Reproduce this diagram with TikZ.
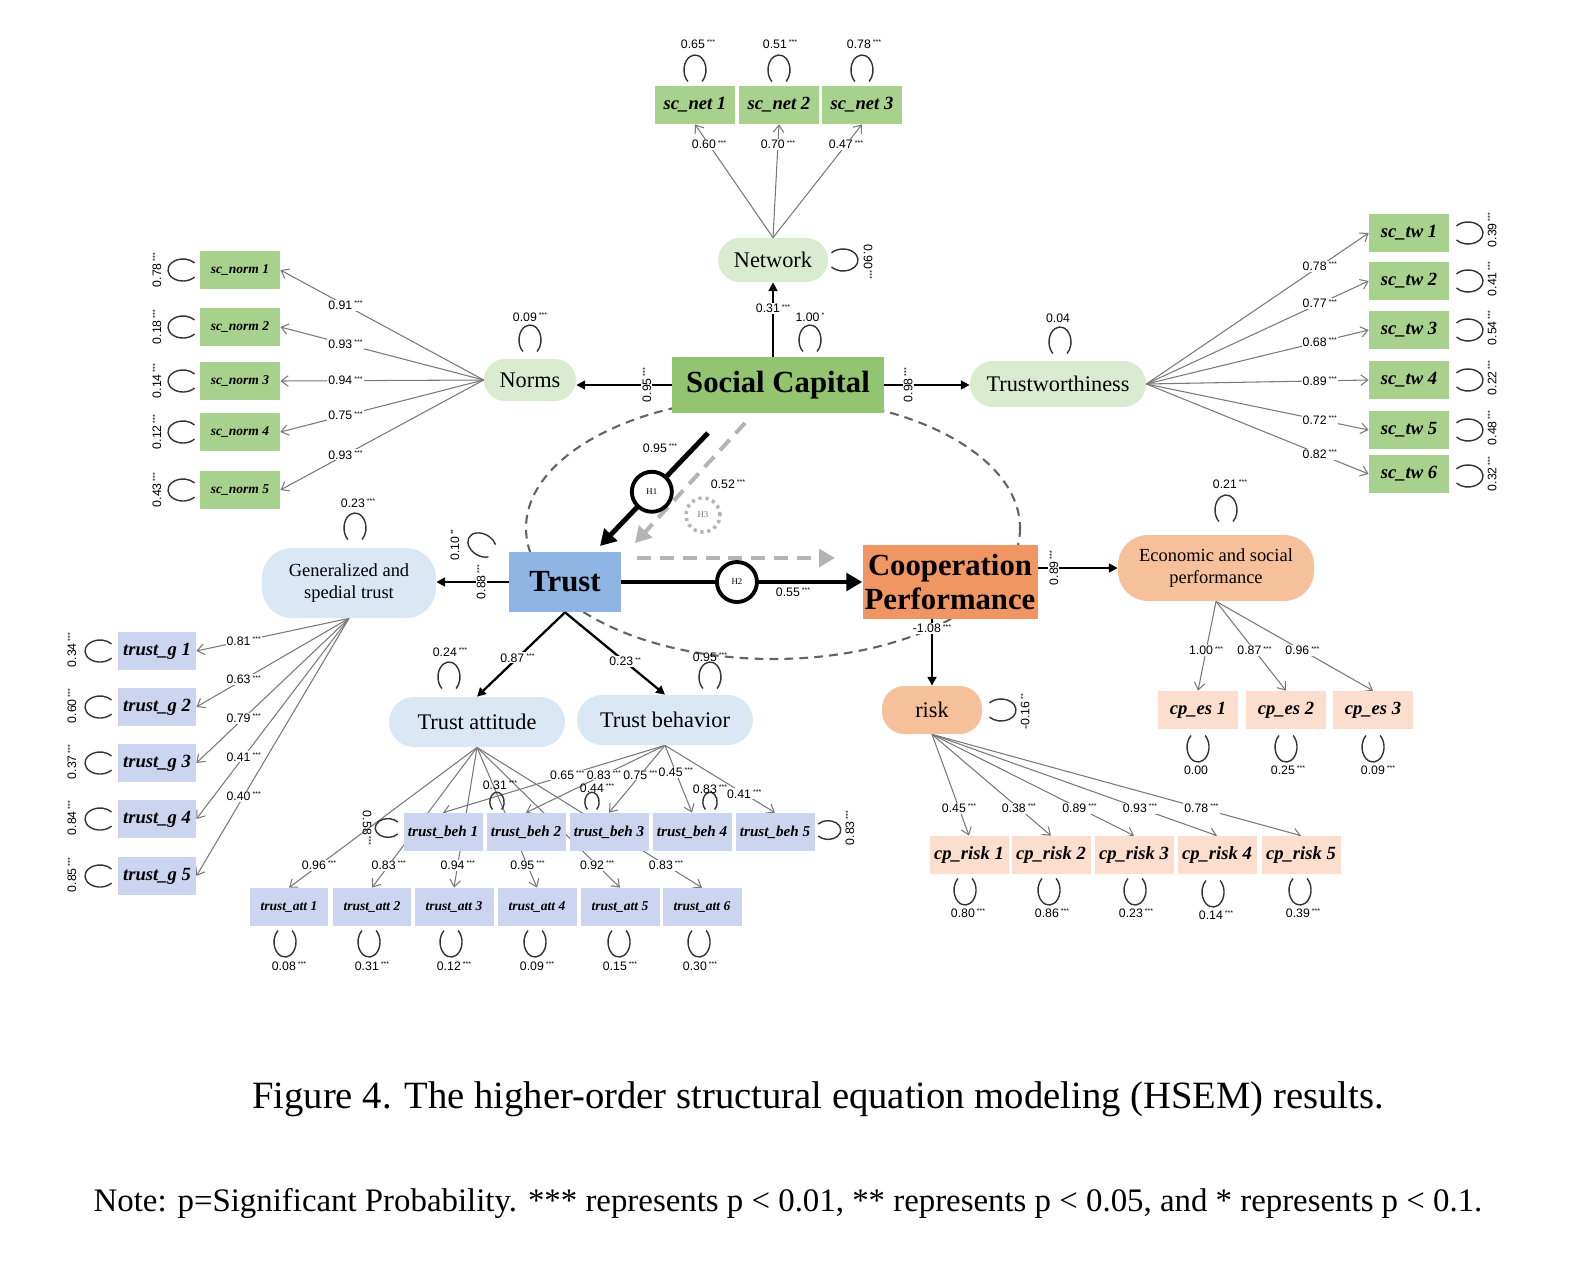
\documentclass[tikz,border=0pt]{standalone}
\usepackage{fontspec}
\setmainfont{Liberation Serif}
\newfontfamily\numfont{Liberation Sans}
\usetikzlibrary{arrows.meta,backgrounds}

\definecolor{obsgreen}{RGB}{169,209,142}
\definecolor{scgreen}{RGB}{147,196,112}
\definecolor{latgreen}{RGB}{218,236,208}
\definecolor{trblue}{RGB}{141,180,226}
\definecolor{latblue}{RGB}{218,232,246}
\definecolor{obsblue}{RGB}{204,213,240}
\definecolor{cporange}{RGB}{240,150,98}
\definecolor{latorange}{RGB}{246,192,155}
\definecolor{obspeach}{RGB}{251,222,205}
\definecolor{linegray}{RGB}{120,120,120}
\definecolor{dashgray}{RGB}{180,180,180}
\definecolor{ellgray}{RGB}{100,100,100}

\newcommand{\sig}[1]{\raisebox{0.55ex}{\fontsize{4}{4}\selectfont#1}}
\newcommand{\val}[2]{#1\,\sig{#2}}
% error loop: [size]{centre}{direction of the opening}
\newcommand{\eloop}[3][1]{%
  \begin{scope}[shift={(#2)},rotate=#3,scale=#1]
    \draw[loopline] (40:15 and 11) arc[start angle=40,end angle=320,x radius=15,y radius=11];
  \end{scope}}

\tikzset{
  obs/.style={rectangle, inner sep=0pt, minimum width=1.6cm, minimum height=0.76cm, font=\bfseries\itshape\fontsize{10.6}{12}\selectfont},
  obsg/.style={obs, fill=obsgreen},
  obsb/.style={obs, fill=obsblue},
  obso/.style={obs, fill=obspeach},
  lat/.style={rectangle, inner sep=0pt, align=center, font=\fontsize{12.7}{14}\selectfont},
  latg/.style={lat, fill=latgreen},
  latb/.style={lat, fill=latblue},
  lato/.style={lat, fill=latorange},
  core/.style={rectangle, inner sep=0pt, align=center, font=\bfseries\fontsize{17.5}{19}\selectfont},
  num/.style={inner sep=0.6pt, font=\numfont\fontsize{7}{8}\selectfont},
  lab/.style={num, fill=white},
  load/.style={draw=linegray, line width=0.6pt, -{Straight Barb[length=4pt,width=6pt]}},
  struct/.style={draw=black, line width=1.3pt, -{Triangle[length=5pt,width=5pt]}},
  strong/.style={draw=black, line width=2.8pt, -{Triangle[length=9pt,width=10pt]}},
  gdash/.style={draw=dashgray, line width=2.3pt, dash pattern=on 8pt off 5pt, -{Triangle[length=9pt,width=10pt]}},
  ellip/.style={draw=ellgray, line width=1.2pt, dash pattern=on 5pt off 3.5pt},
  hcirc/.style={circle, draw=black, line width=2.2pt, fill=white, minimum size=0.8cm, inner sep=0pt, font=\fontsize{5}{5}\selectfont},
  loopline/.style={draw=black!80, line width=0.8pt},
  capt/.style={inner sep=0pt, font=\fontsize{22}{26}\selectfont},
}

\begin{document}
\begin{tikzpicture}[x=0.02cm, y=-0.02cm]
\useasboundingbox (0,0) rectangle (1574,1264);

% social capital and its factors
\node[core, fill=scgreen, minimum width=4.24cm, minimum height=1.12cm] (sc) at (778,385) {Social Capital};
\node[latg, minimum width=2.2cm, minimum height=0.88cm, rounded corners=0.44cm] (net) at (773,260) {Network};
\node[latg, minimum width=1.84cm, minimum height=0.84cm, rounded corners=0.42cm] (norms) at (530,380) {Norms};
\node[latg, minimum width=3.52cm, minimum height=0.92cm, rounded corners=0.46cm] (tw) at (1058,384) {Trustworthiness};

\node[obsg] (net1) at (695,105) {sc\_net 1};
\node[obsg] (net2) at (779,105) {sc\_net 2};
\node[obsg] (net3) at (862,105) {sc\_net 3};

\node[obsg, font=\bfseries\itshape\fontsize{7.7}{9}\selectfont] (norm1) at (240,270) {sc\_norm 1};
\node[obsg, font=\bfseries\itshape\fontsize{7.7}{9}\selectfont] (norm2) at (240,327) {sc\_norm 2};
\node[obsg, font=\bfseries\itshape\fontsize{7.7}{9}\selectfont] (norm3) at (240,381) {sc\_norm 3};
\node[obsg, font=\bfseries\itshape\fontsize{7.7}{9}\selectfont] (norm4) at (240,432) {sc\_norm 4};
\node[obsg, font=\bfseries\itshape\fontsize{7.7}{9}\selectfont] (norm5) at (240,490) {sc\_norm 5};

\node[obsg] (tw1) at (1409,233) {sc\_tw 1};
\node[obsg] (tw2) at (1409,281) {sc\_tw 2};
\node[obsg] (tw3) at (1409,330) {sc\_tw 3};
\node[obsg] (tw4) at (1409,380) {sc\_tw 4};
\node[obsg] (tw5) at (1409,430) {sc\_tw 5};
\node[obsg] (tw6) at (1409,474) {sc\_tw 6};

% trust and its factors
\node[core, fill=trblue, minimum width=2.24cm, minimum height=1.2cm] (tr) at (565,582) {Trust};
\node[latb, minimum width=3.48cm, minimum height=1.4cm, rounded corners=0.6cm, font=\fontsize{10.5}{12.5}\selectfont] (gst) at (349,583) {Generalized and\\spedial trust};
\node[latb, minimum width=3.52cm, minimum height=1.0cm, rounded corners=0.5cm] (tatt) at (477,722) {Trust attitude};
\node[latb, minimum width=3.52cm, minimum height=1.0cm, rounded corners=0.5cm] (tbeh) at (665,720) {Trust behavior};

\node[obsb, minimum width=1.56cm] (g1) at (157,651) {trust\_g 1};
\node[obsb, minimum width=1.56cm] (g2) at (157,707) {trust\_g 2};
\node[obsb, minimum width=1.56cm] (g3) at (157,763) {trust\_g 3};
\node[obsb, minimum width=1.56cm] (g4) at (157,819) {trust\_g 4};
\node[obsb, minimum width=1.56cm] (g5) at (157,876) {trust\_g 5};

\node[obsb, minimum width=1.58cm, font=\bfseries\itshape\fontsize{8.6}{10}\selectfont] (beh1) at (443,832) {trust\_beh 1};
\node[obsb, minimum width=1.58cm, font=\bfseries\itshape\fontsize{8.6}{10}\selectfont] (beh2) at (526,832) {trust\_beh 2};
\node[obsb, minimum width=1.58cm, font=\bfseries\itshape\fontsize{8.6}{10}\selectfont] (beh3) at (609,832) {trust\_beh 3};
\node[obsb, minimum width=1.58cm, font=\bfseries\itshape\fontsize{8.6}{10}\selectfont] (beh4) at (692,832) {trust\_beh 4};
\node[obsb, minimum width=1.58cm, font=\bfseries\itshape\fontsize{8.6}{10}\selectfont] (beh5) at (775,832) {trust\_beh 5};

\node[obsb, minimum width=1.58cm, font=\bfseries\itshape\fontsize{7.7}{9}\selectfont] (att1) at (289,907) {trust\_att 1};
\node[obsb, minimum width=1.58cm, font=\bfseries\itshape\fontsize{7.7}{9}\selectfont] (att2) at (372,907) {trust\_att 2};
\node[obsb, minimum width=1.58cm, font=\bfseries\itshape\fontsize{7.7}{9}\selectfont] (att3) at (454,907) {trust\_att 3};
\node[obsb, minimum width=1.58cm, font=\bfseries\itshape\fontsize{7.7}{9}\selectfont] (att4) at (537,907) {trust\_att 4};
\node[obsb, minimum width=1.58cm, font=\bfseries\itshape\fontsize{7.7}{9}\selectfont] (att5) at (620,907) {trust\_att 5};
\node[obsb, minimum width=1.58cm, font=\bfseries\itshape\fontsize{7.7}{9}\selectfont] (att6) at (702,907) {trust\_att 6};

% cooperation performance and its factors
\node[core, fill=cporange, minimum width=3.5cm, minimum height=1.48cm] (cp) at (950,582) {Cooperation\\Performance};
\node[lato, minimum width=3.92cm, minimum height=1.32cm, rounded corners=0.6cm, font=\fontsize{10.5}{12.5}\selectfont] (esp) at (1216,568) {Economic and social\\performance};
\node[lato, minimum width=2.0cm, minimum height=0.96cm, rounded corners=0.45cm] (risk) at (932,710) {risk};

\node[obso] (es1) at (1198,710) {cp\_es 1};
\node[obso] (es2) at (1286,710) {cp\_es 2};
\node[obso] (es3) at (1373,710) {cp\_es 3};

\node[obso, minimum width=1.58cm] (rk1) at (969,855) {cp\_risk 1};
\node[obso, minimum width=1.58cm] (rk2) at (1051,855) {cp\_risk 2};
\node[obso, minimum width=1.58cm] (rk3) at (1134,855) {cp\_risk 3};
\node[obso, minimum width=1.58cm] (rk4) at (1217,855) {cp\_risk 4};
\node[obso, minimum width=1.58cm] (rk5) at (1301,855) {cp\_risk 5};

% loadings, behind the boxes
\begin{scope}[on background layer]
\draw[ellip] (773,528) ellipse [x radius=247, y radius=131];
\draw[load] (net.north) -- (net1.south) node[lab, pos=0.82] (lnet1) {\val{0.60}{***}};
\draw[load] (net.north) -- (net2.south) node[lab, pos=0.82] (lnet2) {\val{0.70}{***}};
\draw[load] (net.north) -- (net3.south) node[lab, pos=0.82] (lnet3) {\val{0.47}{***}};
\draw[load] (norms.west) -- (norm1.east) node[lab, pos=0.68] (lnorm1) {\val{0.91}{***}};
\draw[load] (norms.west) -- (norm2.east) node[lab, pos=0.68] (lnorm2) {\val{0.93}{***}};
\draw[load] (norms.west) -- (norm3.east) node[lab, pos=0.68] (lnorm3) {\val{0.94}{***}};
\draw[load] (norms.west) -- (norm4.east) node[lab, pos=0.68] (lnorm4) {\val{0.75}{***}};
\draw[load] (norms.west) -- (norm5.east) node[lab, pos=0.68] (lnorm5) {\val{0.93}{***}};
\draw[load] (tw.east) -- (tw1.west) node[lab, pos=0.78] (ltw1) {\val{0.78}{***}};
\draw[load] (tw.east) -- (tw2.west) node[lab, pos=0.78] (ltw2) {\val{0.77}{***}};
\draw[load] (tw.east) -- (tw3.west) node[lab, pos=0.78] (ltw3) {\val{0.68}{***}};
\draw[load] (tw.east) -- (tw4.west) node[lab, pos=0.78] (ltw4) {\val{0.89}{***}};
\draw[load] (tw.east) -- (tw5.west) node[lab, pos=0.78] (ltw5) {\val{0.72}{***}};
\draw[load] (tw.east) -- (tw6.west) node[lab, pos=0.78] (ltw6) {\val{0.82}{***}};
\draw[load] (gst.south) -- (g1.east) node[lab, pos=0.69] (lg1) {\val{0.81}{***}};
\draw[load] (gst.south) -- (g2.east) node[lab, pos=0.69] (lg2) {\val{0.63}{***}};
\draw[load] (gst.south) -- (g3.east) node[lab, pos=0.69] (lg3) {\val{0.79}{***}};
\draw[load] (gst.south) -- (g4.east) node[lab, pos=0.69] (lg4) {\val{0.41}{***}};
\draw[load] (gst.south) -- (g5.east) node[lab, pos=0.69] (lg5) {\val{0.40}{***}};
\draw[load] (tatt.south) -- (att1.north) node[lab, pos=0.84] (latt1) {\val{0.96}{***}};
\draw[load] (tatt.south) -- (att2.north) node[lab, pos=0.84] (latt2) {\val{0.83}{***}};
\draw[load] (tatt.south) -- (att3.north) node[lab, pos=0.84] (latt3) {\val{0.94}{***}};
\draw[load] (tatt.south) -- (att4.north) node[lab, pos=0.84] (latt4) {\val{0.95}{***}};
\draw[load] (tatt.south) -- (att5.north) node[lab, pos=0.84] (latt5) {\val{0.92}{***}};
\draw[load] (tatt.south) -- (att6.north) node[lab, pos=0.84] (latt6) {\val{0.83}{***}};
\draw[load] (tbeh.south) -- (beh1.north) node[lab, pos=0.44] (lbeh1) {\val{0.65}{***}};
\draw[load] (tbeh.south) -- (beh2.north) node[lab, pos=0.44] (lbeh2) {\val{0.83}{***}};
\draw[load] (tbeh.south) -- (beh3.north) node[lab, pos=0.44] (lbeh3) {\val{0.75}{***}};
\draw[load] (tbeh.south) -- (beh4.north) node[lab, pos=0.40] (lbeh4) {\val{0.45}{***}};
\draw[load] (tbeh.south) -- (beh5.north) node[lab, pos=0.72] (lbeh5) {\val{0.41}{***}};
\draw[load] (esp.south) -- (es1.north) node[lab, pos=0.55] (les1) {\val{1.00}{***}};
\draw[load] (esp.south) -- (es2.north) node[lab, pos=0.55] (les2) {\val{0.87}{***}};
\draw[load] (esp.south) -- (es3.north) node[lab, pos=0.55] (les3) {\val{0.96}{***}};
\draw[load] (risk.south) -- (rk1.north) node[lab, pos=0.73] (lrk1) {\val{0.45}{***}};
\draw[load] (risk.south) -- (rk2.north) node[lab, pos=0.73] (lrk2) {\val{0.38}{***}};
\draw[load] (risk.south) -- (rk3.north) node[lab, pos=0.73] (lrk3) {\val{0.89}{***}};
\draw[load] (risk.south) -- (rk4.north) node[lab, pos=0.73] (lrk4) {\val{0.93}{***}};
\draw[load] (risk.south) -- (rk5.north) node[lab, pos=0.73] (lrk5) {\val{0.78}{***}};
\end{scope}

% second-order paths
\draw[struct] (net.south |- sc.north) -- (net.south) node[lab, pos=0.65] (lscnet) {\val{0.31}{***}};
\draw[struct] (sc.west) -- (sc.west -| norms.east) node[lab, rotate=90, pos=0.26] (lscnorm) {\val{0.95}{***}};
\draw[struct] (sc.east) -- (sc.east -| tw.west) node[lab, rotate=90, pos=0.28] (lsctw) {\val{0.98}{***}};
\draw[struct] (tr.west) -- (tr.west -| gst.east) node[lab, rotate=90, pos=0.38] (ltrgst) {\val{0.88}{***}};
\draw[struct] (tr.south) -- (tatt.north) node[lab, pos=0.54] (ltratt) {\val{0.87}{***}};
\draw[struct] (tr.south) -- (tbeh.north) node[lab, pos=0.6] (ltrbeh) {\val{0.23}{**}};
\draw[struct] (cp.east |- esp.west) -- (esp.west) node[lab, rotate=90, pos=0.2] (lcpesp) {\val{0.89}{***}};
\draw[struct] (cp.south -| risk.north) -- (risk.north) node[lab, pos=0.14] (lcprisk) {\val{-1.08}{***}};

% hypotheses
\coordinate (h1a) at (708,433);
\coordinate (h1b) at (600,546);
\coordinate (h3a) at (745,423);
\coordinate (h3b) at (635,543);
\coordinate (gda) at (637,558);
\coordinate (gdb) at (835,558);
\draw[gdash] (h3a) -- (h3b);
\draw[gdash] (gda) -- (gdb);
\draw[strong] (h1a) -- (h1b) node[hcirc, pos=0.52] (h1) {H1};
\draw[strong] (tr.east) -- (cp.west) node[hcirc, pos=0.48] (h2) {H2};
\node[hcirc, minimum size=0.68cm, draw=dashgray, line width=2pt, dash pattern=on 1.8pt off 2.2pt, text=linegray] (h3) at (703,515) {H3};
\node[num] (v95) at (660,448) {\val{0.95}{***}};
\node[num] (v52) at (728,484) {\val{0.52}{***}};
\node[num] (v55) at (793,592) {\val{0.55}{***}};

% error terms
\eloop{695,70}{-90} \node[num] (enet1) at (698,44) {\val{0.65}{***}};
\eloop{779,70}{-90} \node[num] (enet2) at (780,44) {\val{0.51}{***}};
\eloop{862,70}{-90} \node[num] (enet3) at (864,44) {\val{0.78}{***}};
\eloop{843,260}{180} \node[num, rotate=-90] (enet) at (868,262) {\val{0.90}{***}};
\eloop{810,340}{-90} \node[num] (esc) at (810,317) {\val{1.00}{*}};
\eloop{530,340}{-90} \node[num] (enorms) at (530,317) {\val{0.09}{***}};
\eloop{1060,342}{-90} \node[num] (etw) at (1058,318) {0.04};

\eloop{183,270}{0} \node[num, rotate=90] (enorm1) at (157,270) {\val{0.78}{***}};
\eloop{183,327}{0} \node[num, rotate=90] (enorm2) at (157,327) {\val{0.18}{***}};
\eloop{183,381}{0} \node[num, rotate=90] (enorm3) at (157,381) {\val{0.14}{***}};
\eloop{183,432}{0} \node[num, rotate=90] (enorm4) at (157,432) {\val{0.12}{***}};
\eloop{183,490}{0} \node[num, rotate=90] (enorm5) at (157,490) {\val{0.43}{***}};

\eloop{1468,233}{180} \node[num, rotate=90] (etw1) at (1492,230) {\val{0.39}{***}};
\eloop{1468,281}{180} \node[num, rotate=90] (etw2) at (1492,279) {\val{0.41}{***}};
\eloop{1468,330}{180} \node[num, rotate=90] (etw3) at (1492,328) {\val{0.54}{***}};
\eloop{1468,380}{180} \node[num, rotate=90] (etw4) at (1492,378) {\val{0.22}{***}};
\eloop{1468,430}{180} \node[num, rotate=90] (etw5) at (1492,428) {\val{0.48}{***}};
\eloop{1468,476}{180} \node[num, rotate=90] (etw6) at (1492,474) {\val{0.32}{***}};

\eloop{355,528}{-90} \node[num] (egst) at (358,503) {\val{0.23}{***}};
\eloop{482,545}{-30} \node[num, rotate=90] (etr) at (455,545) {\val{0.10}{**}};
\eloop{449,677}{-90} \node[num] (etatt) at (450,652) {\val{0.24}{***}};
\eloop{710,677}{-90} \node[num] (etbeh) at (710,657) {\val{0.95}{***}};

\eloop{100,651}{0} \node[num, rotate=90] (eg1) at (72,650) {\val{0.34}{***}};
\eloop{100,707}{0} \node[num, rotate=90] (eg2) at (72,706) {\val{0.60}{***}};
\eloop{100,763}{0} \node[num, rotate=90] (eg3) at (72,762) {\val{0.37}{***}};
\eloop{100,819}{0} \node[num, rotate=90] (eg4) at (72,818) {\val{0.84}{***}};
\eloop{100,876}{0} \node[num, rotate=90] (eg5) at (72,875) {\val{0.85}{***}};

\eloop[0.85]{388,828}{0} \node[num, rotate=-90] (ebeh1) at (367,828) {\val{0.58}{***}};
\eloop[0.65]{497,802}{-90} \node[num] (ebeh2) at (500,785) {\val{0.31}{***}};
\eloop[0.65]{592,802}{-90} \node[num] (ebeh3) at (597,788) {\val{0.44}{***}};
\eloop[0.65]{710,802}{-90} \node[num] (ebeh4) at (710,789) {\val{0.83}{***}};
\eloop[0.85]{828,830}{180} \node[num, rotate=90] (ebeh5) at (850,828) {\val{0.83}{***}};

\eloop{285,942}{90} \node[num] (eatt1) at (289,966) {\val{0.08}{***}};
\eloop{369,942}{90} \node[num] (eatt2) at (372,966) {\val{0.31}{***}};
\eloop{451,942}{90} \node[num] (eatt3) at (454,966) {\val{0.12}{***}};
\eloop{535,942}{90} \node[num] (eatt4) at (537,966) {\val{0.09}{***}};
\eloop{619,942}{90} \node[num] (eatt5) at (620,966) {\val{0.15}{***}};
\eloop{699,942}{90} \node[num] (eatt6) at (700,966) {\val{0.30}{***}};

\eloop{1226,510}{-90} \node[num] (eesp) at (1230,484) {\val{0.21}{***}};
\eloop{1001,710}{180} \node[num, rotate=90] (erisk) at (1025,712) {\val{-0.16}{**}};

\eloop{1198,747}{90} \node[num] (ees1) at (1196,770) {0.00};
\eloop{1286,747}{90} \node[num] (ees2) at (1288,770) {\val{0.25}{***}};
\eloop{1373,747}{90} \node[num] (ees3) at (1378,770) {\val{0.09}{***}};

\eloop{965,890}{90} \node[num] (erk1) at (968,913) {\val{0.80}{***}};
\eloop{1049,890}{90} \node[num] (erk2) at (1052,913) {\val{0.86}{***}};
\eloop{1135,890}{90} \node[num] (erk3) at (1136,913) {\val{0.23}{***}};
\eloop{1213,892}{90} \node[num] (erk4) at (1216,915) {\val{0.14}{***}};
\eloop{1300,890}{90} \node[num] (erk5) at (1303,913) {\val{0.39}{***}};

% caption
\node[capt] (cap) at (818,1099) {Figure 4. The higher-order structural equation modeling (HSEM) results.};
\node[capt, font=\fontsize{18.7}{22}\selectfont] (note) at (788,1203) {Note: p=Significant Probability. *** represents p < 0.01, ** represents p < 0.05, and * represents p < 0.1.};
\end{tikzpicture}
\end{document}
